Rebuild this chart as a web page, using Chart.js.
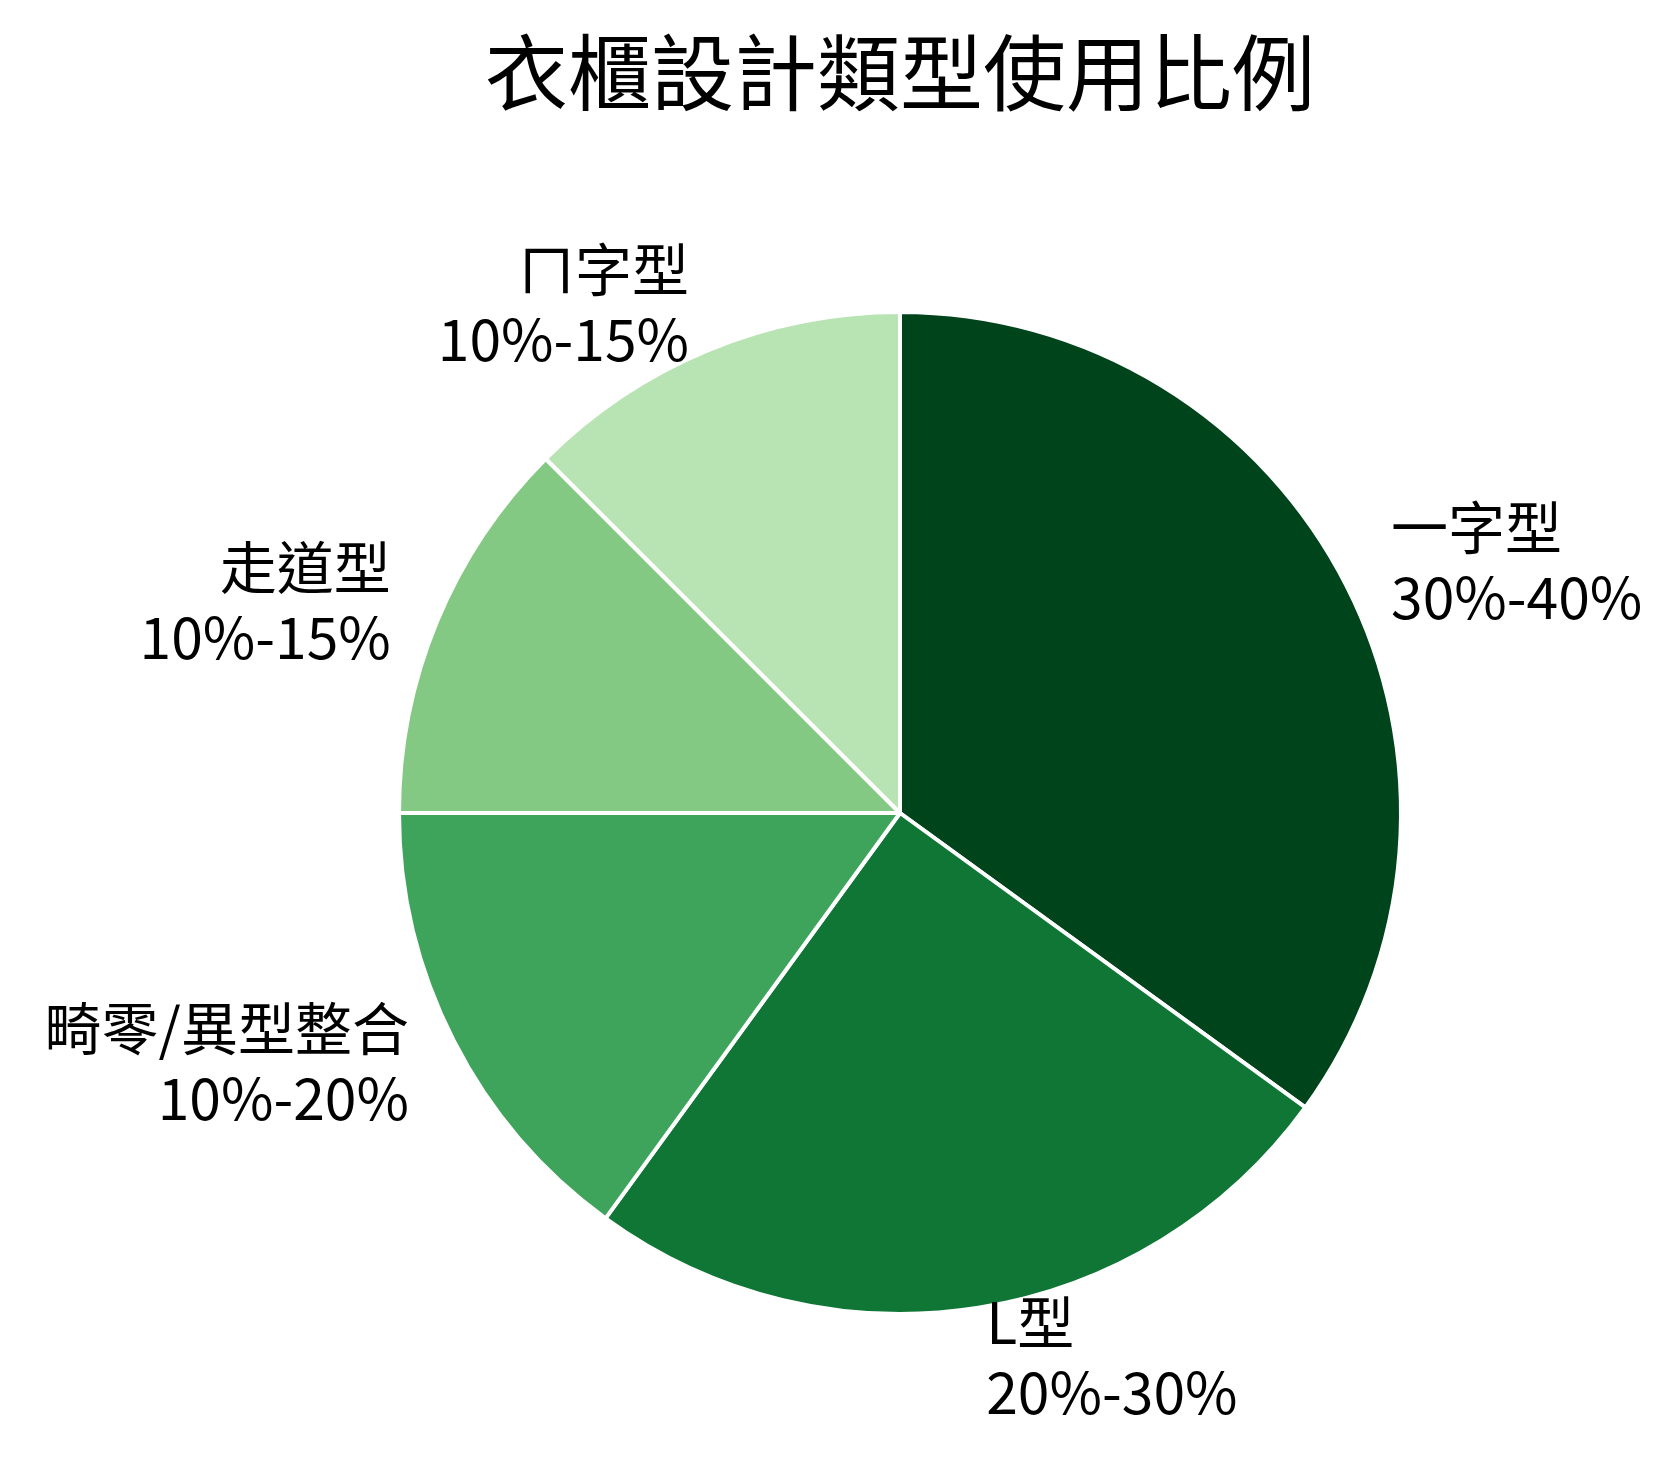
<!DOCTYPE html>
<html>
<head>
<meta charset="utf-8">
<script src="https://cdn.jsdelivr.net/npm/chart.js@4/dist/chart.umd.min.js"></script>
<style>
  body { margin: 0; background: #fff; }
  #wrap { width: 1676px; height: 1468px; }
</style>
</head>
<body>
<div id="wrap"><canvas id="pie"></canvas></div>
<script>
const titleText = '衣櫃設計類型使用比例';
const categories = ['一字型', 'L型', '畸零/異型整合', '走道型', 'ㄇ字型'];
const rangeLabels = ['30%-40%', '20%-30%', '10%-20%', '10%-15%', '10%-15%'];
const shares = [35, 25, 15, 12.5, 12.5];
const colors = ['#00441b', '#0f7635', '#3fa45b', '#83c983', '#b8e3b2'];

const FONT = '"Noto Sans CJK TC", "Noto Sans", sans-serif';

// outside labels + title, like a matplotlib pie
const labelPlugin = {
    id: 'outsideLabels',
    beforeDraw(chart) {
        const ctx = chart.ctx;
        ctx.save();
        ctx.fillStyle = '#fff';
        ctx.fillRect(0, 0, chart.width, chart.height);
        ctx.restore();
    },
    afterDraw(chart) {
        const ctx = chart.ctx;
        ctx.save();
        ctx.fillStyle = '#000';
        ctx.font = '83px ' + FONT;
        ctx.textAlign = 'center';
        ctx.textBaseline = 'middle';
        ctx.fillText(titleText, 900, 72);

        ctx.font = '57px ' + FONT;
        chart.getDatasetMeta(0).data.forEach((arc, i) => {
            const mid = (arc.startAngle + arc.endAngle) / 2;
            const r = arc.outerRadius * 1.1;
            const x = arc.x + Math.cos(mid) * r;
            const y = arc.y + Math.sin(mid) * r;
            ctx.textAlign = Math.cos(mid) >= 0 ? 'left' : 'right';
            ctx.fillText(categories[i], x, y - 35);
            ctx.fillText(rangeLabels[i], x, y + 35);
        });
        ctx.restore();
    }
};

new Chart(document.getElementById('pie'), {
    type: 'pie',
    data: {
        labels: categories,
        datasets: [{
            data: shares,
            backgroundColor: colors,
            borderColor: '#fff',
            borderWidth: 4
        }]
    },
    options: {
        responsive: true,
        maintainAspectRatio: false,
        animation: false,
        layout: { padding: { left: 397, right: 273, top: 310, bottom: 152 } },
        plugins: {
            legend: { display: false },
            tooltip: { enabled: false }
        }
    },
    plugins: [labelPlugin]
});
</script>
</body>
</html>
